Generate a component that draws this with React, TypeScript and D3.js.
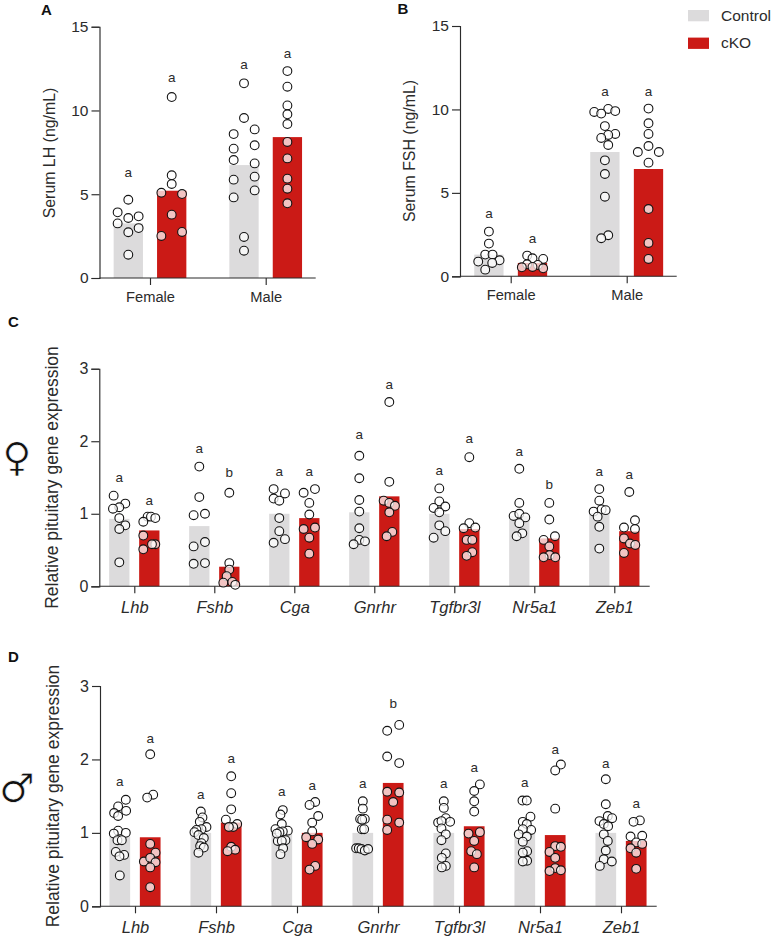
import React, { useEffect, useRef } from 'react';
import * as d3 from 'd3';

const groups = ['Control', 'cKO'];
const sexes = ['Female', 'Male'];
const genes = ['Lhb', 'Fshb', 'Cga', 'Gnrhr', 'Tgfbr3l', 'Nr5a1', 'Zeb1'];

// each series runs control, cKO, control, cKO ... across the categories
const lhBars = [3.26, 5.21, 6.74, 8.41];
const lhLetters = ['a', 'a', 'a', 'a'];
const lhLetterY = [6.25, 11.94, 12.69, 13.37];
const lhValues = [
  [4.67, 3.92, 3.68, 3.58, 3.26, 2.98, 2.73, 1.39],
  [10.8, 6.13, 5.61, 5.09, 5.01, 3.78, 2.75, 2.51],
  [11.62, 9.55, 8.87, 8.59, 7.72, 7.92, 7.04, 6.84, 5.87, 6.05, 5.23, 4.81, 2.45, 1.63],
  [12.35, 11.42, 10.3, 9.77, 9.19, 8.12, 7.14, 5.93, 5.33, 4.46],
];
const lhSpread = [
  [0, -32, 31, 0, -32, 31, 0, 0],
  [0, 0, 0, -31, 31, 0, 31, -31],
  [0, 0, 32, -31, -31, 32, -31, 32, -31, 32, 32, -31, 0, 0],
  [0, 0, 0, 0, 0, 0, 0, 0, 0, 0],
];

const fshBars = [1.3, 0.8, 7.45, 6.43];
const fshLetters = ['a', 'a', 'a', 'a'];
const fshLetterY = [3.71, 2.24, 11.04, 11.02];
const fshValues = [
  [2.68, 1.96, 1.3, 1.3, 0.96, 0.88, 0.8, 0.4],
  [1.24, 1.04, 1.08, 0.72, 0.68, 0.54, 0.56, 0.48],
  [10.03, 9.9, 9.85, 9.75, 9.0, 8.53, 8.47, 8.29, 7.87, 6.95, 6.13, 4.77, 2.46, 2.28],
  [10.05, 9.17, 8.53, 7.81, 7.45, 7.45, 6.81, 4.03, 2.0, 1.04],
];
const fshSpread = [
  [0, 0, -11, 11, 32, -32, 10, -11],
  [-16, 32, 0, -16, 16, -32, 0, 32],
  [10, 31, -32, -11, 0, 31, 10, -11, 10, 0, 0, 0, 10, -11],
  [0, 0, 0, 0, -32, 31, 0, 0, 0, 0],
];

const femaleBars = [0.93, 0.77, 0.83, 0.27, 1.0, 0.94, 1.02, 1.24, 1.0, 0.79, 0.97, 0.66, 1.01, 0.76];
const femaleLetters = ['a', 'a', 'a', 'b', 'a', 'a', 'a', 'a', 'a', 'a', 'a', 'b', 'a', 'a'];
const femaleLetterY = [1.49, 1.18, 1.89, 1.56, 1.58, 1.58, 2.08, 2.78, 1.59, 2.03, 1.85, 1.4, 1.58, 1.53];
const femaleValues = [
  [1.25, 1.14, 1.09, 1.07, 0.94, 0.84, 0.79, 0.33],
  [0.96, 0.96, 0.94, 0.89, 0.7, 0.58, 0.58, 0.51],
  [1.65, 1.23, 0.98, 1.0, 0.61, 0.55, 0.32, 0.31],
  [1.29, 0.32, 0.23, 0.14, 0.05, 0.06, 0.02],
  [1.34, 1.28, 1.21, 1.18, 0.94, 0.76, 0.65, 0.6],
  [1.34, 1.29, 1.15, 0.99, 0.81, 0.79, 0.67, 0.45],
  [1.8, 1.49, 1.19, 1.03, 0.8, 0.64, 0.62, 0.58],
  [2.54, 1.44, 1.18, 1.15, 1.11, 1.02, 0.75, 0.69],
  [1.35, 1.17, 1.08, 1.1, 1.02, 0.84, 0.76, 0.67],
  [1.78, 0.87, 0.8, 0.81, 0.64, 0.64, 0.47, 0.42],
  [1.62, 1.15, 0.97, 1.0, 0.95, 0.87, 0.73, 0.69],
  [1.15, 0.92, 0.69, 0.64, 0.55, 0.43, 0.4, 0.4],
  [1.34, 1.18, 1.03, 1.06, 1.05, 0.96, 0.82, 0.52],
  [1.3, 0.91, 0.81, 0.79, 0.66, 0.59, 0.57, 0.46],
];
const femaleSpread = [
  [-17, 18, 0, -19, 0, 18, 0, 0],
  [-5, 5, 18, -18, -18, 18, 8, -18],
  [0, 0, -17, 17, 17, -17, 17, -17],
  [0, 0, 0, -8, -18, 9, 18],
  [-17, 17, -17, 0, 0, 0, 17, -17],
  [17, -17, 0, 0, 17, -17, 0, 0],
  [0, 0, 0, 0, 0, 0, 17, -17],
  [0, 0, -17, 0, 17, 0, 9, -8],
  [0, 0, -17, 18, 0, 0, 18, -17],
  [0, 0, -17, 18, -8, 9, 9, -8],
  [0, 0, -17, 0, 18, 0, 9, -8],
  [0, 0, 17, -17, 0, 1, -17, 18],
  [0, 0, -17, 7, 19, -5, 0, 0],
  [0, 17, -16, 17, -16, 2, 18, -16],
];

const maleBars = [0.95, 0.94, 1.0, 1.14, 1.0, 1.0, 1.0, 1.68, 1.0, 1.09, 1.0, 0.97, 1.0, 0.89];
const maleLetters = ['a', 'a', 'a', 'a', 'a', 'a', 'a', 'b', 'a', 'a', 'a', 'a', 'a', 'a'];
const maleLetterY = [1.69, 2.28, 1.52, 2.01, 1.56, 1.64, 1.67, 2.76, 1.67, 1.89, 1.68, 2.13, 1.94, 1.39];
const maleValues = [
  [1.45, 1.36, 1.3, 1.27, 1.23, 1.03, 0.99, 1.0, 0.9, 0.9, 0.74, 0.7, 0.68, 0.42],
  [2.07, 1.52, 1.48, 0.85, 0.73, 0.61, 0.66, 0.6, 0.53, 0.26],
  [1.29, 1.21, 1.15, 1.08, 1.05, 1.04, 1.01, 0.97, 0.93, 0.86, 0.82, 0.8, 0.73],
  [1.77, 1.54, 1.32, 1.18, 1.12, 1.08, 1.08, 0.81, 0.77, 0.75],
  [1.31, 1.25, 1.12, 1.05, 1.03, 1.02, 1.01, 0.89, 0.9, 0.89, 0.79, 0.71, 0.99],
  [1.42, 1.38, 1.23, 1.14, 1.02, 0.94, 0.91, 0.85, 0.55, 0.5],
  [1.43, 1.33, 1.19, 1.19, 1.18, 1.05, 1.05, 0.79, 0.79, 0.78, 0.76, 0.78],
  [2.47, 2.39, 2.04, 1.95, 1.56, 1.55, 1.42, 1.18, 1.14, 1.04],
  [1.43, 1.34, 1.2, 1.15, 1.14, 1.16, 1.06, 0.98, 0.9, 0.72, 0.66, 0.55, 0.53],
  [1.66, 1.57, 1.43, 1.29, 0.99, 1.01, 0.89, 0.75, 0.71, 0.53],
  [1.44, 1.44, 1.22, 1.15, 1.12, 1.04, 1.05, 0.98, 0.95, 0.88, 0.75, 0.73, 0.62, 0.61],
  [1.93, 1.85, 1.33, 0.82, 0.81, 0.74, 0.66, 0.52, 0.49, 0.48],
  [1.73, 1.39, 1.23, 1.2, 1.16, 1.12, 1.09, 0.98, 0.89, 0.76, 0.64, 0.61, 0.55],
  [1.17, 1.15, 0.95, 0.96, 0.87, 0.85, 0.79, 0.73, 0.51],
];
const maleSpread = [
  [18, -5, 19, -17, -5, -5, -18, 18, -7, 6, -12, 13, -1, 0],
  [0, 9, -9, 0, 16, -19, 0, 16, 0, 0],
  [0, 5, -3, 17, 2, -13, -19, -7, 9, 2, -2, 9, -7],
  [0, 0, 0, -16, 18, 6, -7, 0, 12, -11],
  [3, -4, 0, -19, 18, 3, -7, -12, 11, 0, 4, -4, -15],
  [9, -8, 18, 0, 0, -18, 18, 0, 9, -8],
  [0, 0, -8, 6, -2, -3, 4, -20, -12, -4, 6, 16],
  [18, -18, -18, 18, -18, 18, 0, -18, 18, -18],
  [0, 0, 6, 19, -17, -7, -7, 6, -7, 6, -6, 6, -6],
  [17, 0, 0, 0, -17, 17, 0, -9, 8, 0],
  [-7, 6, 17, -6, 6, 19, -6, -18, 6, -6, 7, -6, 7, -6],
  [17, 0, 0, 0, 17, -17, 0, 0, 17, -17],
  [0, 0, 6, 19, -19, -6, 7, -6, 6, 0, -6, 18, -18],
  [11, -8, -17, 18, 0, 18, -17, 0, 0],
];

const GREY = '#dcdbdc';
const RED = '#cb1a16';
const INK = '#2b2b2b';
const FONT = '"Liberation Sans", Arial, sans-serif';

// layout of the four panels, in page pixels
const panels = [
  {
    name: 'A', nameX: 41, nameY: 15, title: 'Serum LH (ng/mL)', titleX: 49, titleY: 153, titleSize: 15.9,
    cats: sexes, max: 15, ticks: [0, 5, 10, 15], left: 99.5, right: 315.7, top: 26.7, bottom: 278,
    first: 150, step: 115.7, dodge: 21.7, barW: 29.3, tickSize: 15.5, catSize: 14.7, catPad: 7, italic: false,
    bars: lhBars, letters: lhLetters, letterY: lhLetterY, values: lhValues, spread: lhSpread,
  },
  {
    name: 'B', nameX: 397.5, nameY: 14, title: 'Serum FSH (ng/mL)', titleX: 409, titleY: 151, titleSize: 15.9,
    cats: sexes, max: 15, ticks: [0, 5, 10, 15], left: 460, right: 676.7, top: 26, bottom: 276.3,
    first: 510.7, step: 116, dodge: 21.8, barW: 29.3, tickSize: 15.5, catSize: 14.7, catPad: 6.5, italic: false,
    bars: fshBars, letters: fshLetters, letterY: fshLetterY, values: fshValues, spread: fshSpread,
  },
  {
    name: 'C', nameX: 8, nameY: 326.7, title: 'Relative pituitary gene expression', titleX: 52, titleY: 477.5, titleSize: 17.5,
    cats: genes, max: 3, ticks: [0, 1, 2, 3], left: 99.3, right: 649.7, top: 368.7, bottom: 586.3,
    first: 134.3, step: 80, dodge: 15, barW: 20.3, tickSize: 16, catSize: 16.5, catPad: 8, italic: true,
    bars: femaleBars, letters: femaleLetters, letterY: femaleLetterY, values: femaleValues, spread: femaleSpread,
  },
  {
    name: 'D', nameX: 8, nameY: 661.7, title: 'Relative pituitary gene expression', titleX: 53, titleY: 796, titleSize: 17.5,
    cats: genes, max: 3, ticks: [0, 1, 2, 3], left: 100, right: 656.7, top: 686, bottom: 906.3,
    first: 135, step: 81, dodge: 15.2, barW: 20.7, tickSize: 16, catSize: 16.5, catPad: 8, italic: true,
    bars: maleBars, letters: maleLetters, letterY: maleLetterY, values: maleValues, spread: maleSpread,
  },
];

const App = () => {
  const ref = useRef<SVGSVGElement>(null);

  useEffect(() => {
    const svg = d3.select(ref.current);
    svg.selectAll('*').remove();

    const spreadX = d3.scaleLinear().domain([-30, 30]).range([-10, 10]);
    const color = d3.scaleOrdinal<string>().domain(groups).range([GREY, RED]);

    panels.forEach(p => {
      const n = p.cats.length;
      const x = d3.scalePoint<string>()
        .domain(p.cats)
        .range([p.first, p.first + p.step * (n - 1)]);
      const dodge = d3.scalePoint<string>().domain(groups).range([-p.dodge, p.dodge]);
      const y = d3.scaleLinear().domain([0, p.max]).range([p.bottom, p.top]);

      // one row per bar, flat in the same order as the value arrays
      const rows = d3.cross(p.cats, groups).map(([cat, group], i) => ({
        cx: x(cat)! + dodge(group)!,
        group,
        bar: p.bars[i],
        letter: p.letters[i],
        letterY: p.letterY[i],
        points: p.values[i].map((v, j) => ({ v, dx: p.spread[i][j] })),
      }));

      const g = svg.append('g');

      g.selectAll('rect.bar')
        .data(rows)
        .enter()
        .append('rect')
        .attr('class', 'bar')
        .attr('x', d => d.cx - p.barW / 2)
        .attr('y', d => y(d.bar))
        .attr('width', p.barW)
        .attr('height', d => p.bottom - y(d.bar))
        .attr('fill', d => color(d.group));

      // Axes
      const yAxis = g.append('g')
        .attr('transform', `translate(${p.left},0)`)
        .call(d3.axisLeft(y).tickValues(p.ticks).tickSize(8).tickPadding(3).tickFormat(d3.format('d')));
      const xAxis = g.append('g')
        .attr('transform', `translate(0,${p.bottom})`)
        .call(d3.axisBottom(x).tickSize(7).tickPadding(p.catPad));
      xAxis.select('.domain').attr('d', `M${p.left},0H${p.right}`);

      [yAxis, xAxis].forEach(a => {
        a.select('.domain').attr('stroke', INK).attr('stroke-width', 1.15);
        a.selectAll('line').attr('stroke', INK).attr('stroke-width', 1.15);
        a.selectAll('text').attr('fill', INK).style('font-family', FONT);
      });
      yAxis.selectAll('text').style('font-size', `${p.tickSize}px`);
      xAxis.selectAll('text')
        .style('font-size', `${p.catSize}px`)
        .style('font-style', p.italic ? 'italic' : 'normal');

      // Points
      rows.forEach(row => {
        g.append('g')
          .selectAll('circle')
          .data(row.points)
          .enter()
          .append('circle')
          .attr('cx', d => row.cx + spreadX(d.dx))
          .attr('cy', d => y(d.v))
          .attr('r', 4.4)
          .attr('fill', 'rgba(255,255,255,0.74)')
          .attr('stroke', '#141414')
          .attr('stroke-width', 1.1);
      });

      // Significance letters
      g.selectAll('text.letter')
        .data(rows)
        .enter()
        .append('text')
        .attr('class', 'letter')
        .attr('x', d => d.cx)
        .attr('y', d => y(d.letterY))
        .attr('dy', '0.3em')
        .attr('text-anchor', 'middle')
        .attr('fill', INK)
        .style('font-family', FONT)
        .style('font-size', '13.5px')
        .text(d => d.letter);

      g.append('text')
        .attr('transform', `translate(${p.titleX},${p.titleY})rotate(-90)`)
        .attr('dy', '0.35em')
        .attr('text-anchor', 'middle')
        .attr('fill', INK)
        .style('font-family', FONT)
        .style('font-size', `${p.titleSize}px`)
        .text(p.title);

      g.append('text')
        .attr('x', p.nameX)
        .attr('y', p.nameY)
        .attr('fill', '#111')
        .style('font-family', FONT)
        .style('font-size', '15px')
        .style('font-weight', 'bold')
        .text(p.name);
    });

    // Legend
    const legend = svg.append('g').attr('transform', 'translate(688,10)');
    groups.forEach((name, i) => {
      legend.append('rect')
        .attr('y', i * 27.6)
        .attr('width', 21)
        .attr('height', 11.3)
        .attr('fill', color(name));
      legend.append('text')
        .attr('x', 33)
        .attr('y', i * 27.6 + 10.5)
        .attr('fill', INK)
        .style('font-family', FONT)
        .style('font-size', '15.5px')
        .text(name);
    });

    // Sex symbols, white stroke thins the DejaVu glyph down
    svg.append('text')
      .attr('x', 17)
      .attr('y', 471)
      .attr('text-anchor', 'middle')
      .attr('fill', '#111')
      .attr('stroke', '#fff')
      .attr('stroke-width', 0.7)
      .style('font-family', '"DejaVu Sans"')
      .style('font-size', '40px')
      .text('\u2640');
    svg.append('text')
      .attr('x', 17)
      .attr('y', 802)
      .attr('text-anchor', 'middle')
      .attr('fill', '#111')
      .attr('stroke', '#fff')
      .attr('stroke-width', 0.7)
      .style('font-family', '"DejaVu Sans"')
      .style('font-size', '40px')
      .text('\u2642');
  }, []);

  return (
    <svg
      ref={ref}
      width={772}
      height={939}
      style={{ position: 'absolute', left: 0, top: 0, background: '#fff' }}
    />
  );
};

export default App;
